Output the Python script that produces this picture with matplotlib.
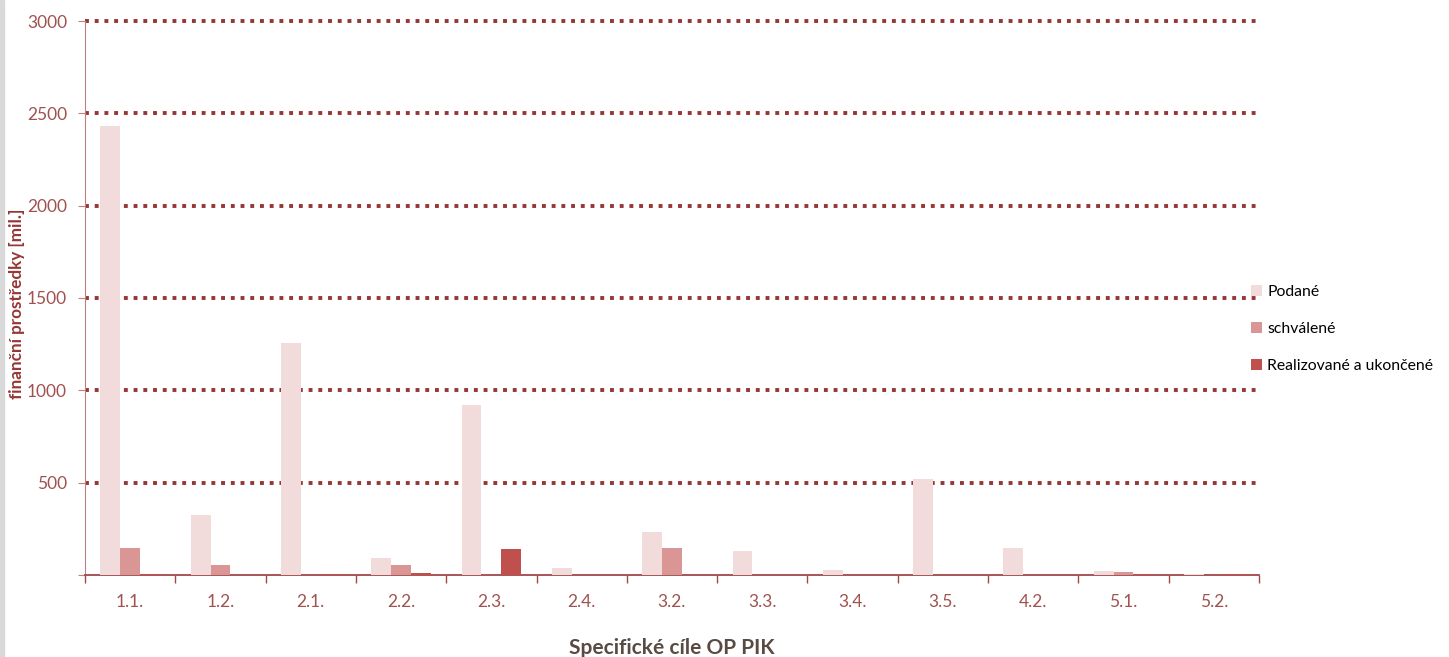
import matplotlib
matplotlib.use('Agg')
import matplotlib.pyplot as plt
import numpy as np
from matplotlib.patches import Rectangle

plt.rcParams['font.family'] = ['Lato', 'DejaVu Sans']

categories = ['1.1.', '1.2.', '2.1.', '2.2.', '2.3.', '2.4.', '3.2.', '3.3.', '3.4.', '3.5.', '4.2.', '5.1.', '5.2.']
podane = [2430, 325, 1255, 94, 920, 40, 233, 130, 27, 520, 144, 22, 5]
schvalene = [144, 56, 0, 56, 0, 0, 148, 0, 0, 0, 0, 16, 0]
realizovane = [7, 0, 7, 13, 139, 0, 0, 0, 0, 0, 0, 7, 7]
series_names = ['Podané', 'schválené', 'Realizované a ukončené']
colors = ['#F2DCDB', '#DA9694', '#C0504D']

fig = plt.figure(figsize=(14.49, 6.57), dpi=100)
ax = fig.add_axes([85 / 1449, 1 - 575 / 657, (1259 - 85) / 1449, (575 - 21) / 657])

x = np.arange(len(categories))
w = 0.22
for i, (vals, name, c) in enumerate(zip([podane, schvalene, realizovane], series_names, colors)):
    ax.bar(x + (i - 1) * w, vals, width=w, color=c, label=name, zorder=3)

ax.set_xlim(-0.5, len(categories) - 0.5)
ax.set_ylim(0, 3000)
ax.set_yticks(np.arange(0, 3001, 500))
ax.set_yticklabels(['' if v == 0 else str(v) for v in range(0, 3001, 500)])
for v in range(500, 3001, 500):
    ax.axhline(v, color='#953735', lw=2.8, linestyle=(0, (1, 1.5)), zorder=1, clip_on=False)

ax.set_xticks(x)
ax.set_xticklabels(categories)
ax.set_xticks(np.arange(-0.5, len(categories)), minor=True)
ax.tick_params(axis='x', which='major', length=0, pad=14, labelsize=12.5, labelcolor='#A0524F')
ax.tick_params(axis='x', which='minor', length=6, color='#A0484A', width=1)
ax.tick_params(axis='y', length=5, color='#C08080', labelsize=12.5, labelcolor='#A0524F', pad=8)

for s in ['top', 'right']:
    ax.spines[s].set_visible(False)
ax.spines['left'].set_color('#C08080')
ax.spines['bottom'].set_color('#A0484A')
ax.spines['bottom'].set_linewidth(1.3)

ax.set_ylabel('finanční prostředky [mil.]', fontsize=12.3, fontweight='bold', color='#953735')
ax.yaxis.set_label_coords(-60 / 1174, 0.49)
ax.set_xlabel('Specifické cíle OP PIK', fontsize=15, fontweight='bold', color='#594A42', labelpad=20)

leg = ax.legend(loc='center left', bbox_to_anchor=(0.981, 0.444), frameon=False, fontsize=11.3,
                handlelength=0.7, handleheight=0.7, handletextpad=0.35, labelspacing=1.45)

fig.patches.append(Rectangle((0, 0), 4 / 1449, 1, transform=fig.transFigure, color='#D9D9D9', zorder=0))

fig.savefig('out.png', dpi=100)
